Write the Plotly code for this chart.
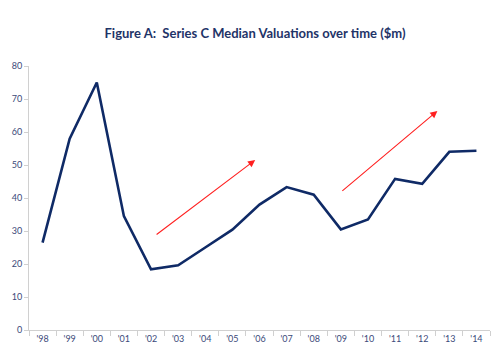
import plotly.graph_objects as go

years = ["'98", "'99", "'00", "'01", "'02", "'03", "'04", "'05", "'06", "'07", "'08", "'09", "'10", "'11", "'12", "'13", "'14"]
valuations = [26.5, 58.0, 75.0, 34.5, 18.4, 19.6, 25.0, 30.4, 38.0, 43.3, 41.0, 30.5, 33.5, 45.8, 44.3, 54.0, 54.3]

# trend arrows: (start index, start value, end index, end value)
arrow1 = [4.15, 28.6, 7.84, 51.5]
arrow2 = [11.0, 41.8, 14.56, 66.4]

fig = go.Figure()
fig.add_trace(go.Scatter(x=list(range(len(years))), y=valuations, mode="lines",
                         line=dict(color="#0f2a66", width=2.6)))

for a in (arrow1, arrow2):
    fig.add_annotation(x=a[2], y=a[3], ax=a[0], ay=a[1], xref="x", yref="y", axref="x", ayref="y",
                       showarrow=True, arrowhead=2, arrowsize=1.3, arrowwidth=1.1, arrowcolor="#ff2020", text="")

fig.update_layout(
    width=503, height=357,
    margin=dict(l=21, r=21, t=58, b=35),
    paper_bgcolor="white", plot_bgcolor="white",
    showlegend=False,
    title=dict(text="<b>Figure A:  Series C Median Valuations over time ($m)</b>", x=(255 - 8) / 503, xanchor="center",
               y=1 - 25 / 357, yanchor="middle",
               font=dict(family="Lato, Open Sans, sans-serif", size=13, color="#1f3468")),
    font=dict(family="Lato, Open Sans, sans-serif", color="#3b4a7a"),
)
fig.update_xaxes(range=[-0.5, len(years) - 0.5], tickmode="array", tickvals=list(range(len(years))), ticktext=years,
                 showgrid=False, showline=True, linecolor="#d0d0d0", linewidth=1, automargin=False,
                 ticks="", tickfont=dict(size=9, color="#3b4a7a"), zeroline=False,
                 minor=dict(tickmode="array", tickvals=[i - 0.5 for i in range(len(years) + 1)],
                            ticks="outside", ticklen=5, tickcolor="#d0d0d0"))
fig.update_yaxes(range=[0, 80], dtick=10, showgrid=False, showline=True, linecolor="#d0d0d0", linewidth=1,
                 ticks="outside", ticklen=4, tickcolor="#d0d0d0", tickfont=dict(size=9, color="#3b4a7a"),
                 zeroline=False, automargin=False)

fig.write_html("out.html")
